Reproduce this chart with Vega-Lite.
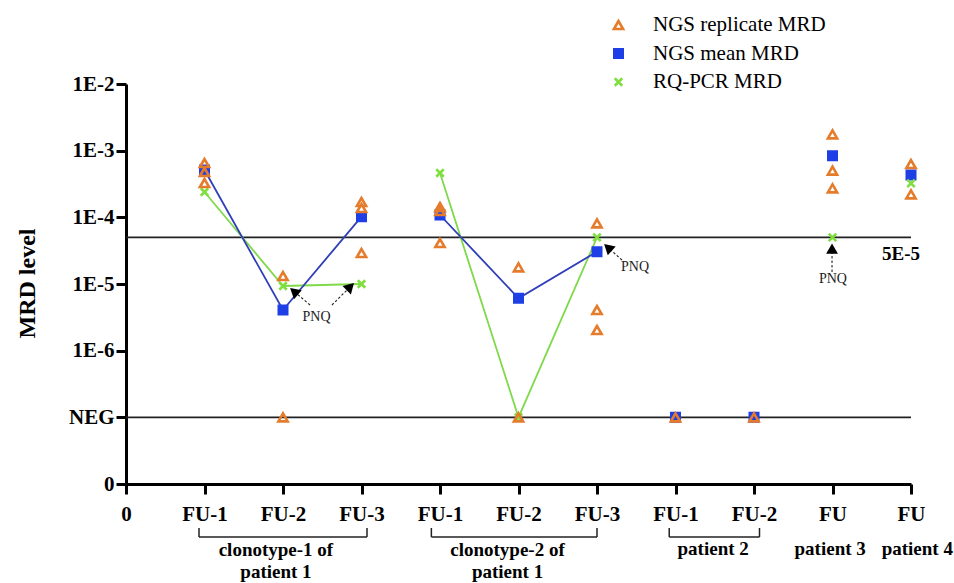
{
  "$schema": "https://vega.github.io/schema/vega-lite/v6.json",
  "width": 785,
  "height": 400,
  "autosize": {"type": "none"},
  "padding": {"left": 126, "top": 84, "right": 43, "bottom": 99},
  "background": "white",
  "config": {"view": {"stroke": null}, "font": "Liberation Serif"},
  "datasets": {
    "points": [
      {"series": "NGS mean MRD", "pos": 1, "level": -3.29, "group": "c1"},
      {"series": "NGS mean MRD", "pos": 2, "level": -5.39, "group": "c1"},
      {"series": "NGS mean MRD", "pos": 3, "level": -3.99, "group": "c1"},
      {"series": "NGS mean MRD", "pos": 4, "level": -3.965, "group": "c2"},
      {"series": "NGS mean MRD", "pos": 5, "level": -5.215, "group": "c2"},
      {"series": "NGS mean MRD", "pos": 6, "level": -4.515, "group": "c2"},
      {"series": "NGS mean MRD", "pos": 7, "level": -7, "group": "p2a"},
      {"series": "NGS mean MRD", "pos": 8, "level": -7, "group": "p2b"},
      {"series": "NGS mean MRD", "pos": 9, "level": -3.075, "group": "p3"},
      {"series": "NGS mean MRD", "pos": 10, "level": -3.365, "group": "p4"},
      {"series": "RQ-PCR MRD", "pos": 1, "level": -3.62, "group": "c1"},
      {"series": "RQ-PCR MRD", "pos": 2, "level": -5.03, "group": "c1"},
      {"series": "RQ-PCR MRD", "pos": 3, "level": -5.0, "group": "c1"},
      {"series": "RQ-PCR MRD", "pos": 4, "level": -3.335, "group": "c2"},
      {"series": "RQ-PCR MRD", "pos": 5, "level": -7, "group": "c2"},
      {"series": "RQ-PCR MRD", "pos": 6, "level": -4.301, "group": "c2"},
      {"series": "RQ-PCR MRD", "pos": 9, "level": -4.301, "group": "p3"},
      {"series": "RQ-PCR MRD", "pos": 10, "level": -3.49, "group": "p4"},
      {"series": "NGS replicate MRD", "pos": 1, "level": -3.185, "group": "c1"},
      {"series": "NGS replicate MRD", "pos": 1, "level": -3.32, "group": "c1"},
      {"series": "NGS replicate MRD", "pos": 1, "level": -3.485, "group": "c1"},
      {"series": "NGS replicate MRD", "pos": 2, "level": -4.88, "group": "c1"},
      {"series": "NGS replicate MRD", "pos": 2, "level": -7, "group": "c1"},
      {"series": "NGS replicate MRD", "pos": 3, "level": -3.77, "group": "c1"},
      {"series": "NGS replicate MRD", "pos": 3, "level": -3.86, "group": "c1"},
      {"series": "NGS replicate MRD", "pos": 3, "level": -4.535, "group": "c1"},
      {"series": "NGS replicate MRD", "pos": 4, "level": -3.845, "group": "c2"},
      {"series": "NGS replicate MRD", "pos": 4, "level": -3.905, "group": "c2"},
      {"series": "NGS replicate MRD", "pos": 4, "level": -4.385, "group": "c2"},
      {"series": "NGS replicate MRD", "pos": 5, "level": -4.75, "group": "c2"},
      {"series": "NGS replicate MRD", "pos": 5, "level": -7, "group": "c2"},
      {"series": "NGS replicate MRD", "pos": 6, "level": -4.09, "group": "c2"},
      {"series": "NGS replicate MRD", "pos": 6, "level": -5.39, "group": "c2"},
      {"series": "NGS replicate MRD", "pos": 6, "level": -5.69, "group": "c2"},
      {"series": "NGS replicate MRD", "pos": 7, "level": -7, "group": "p2a"},
      {"series": "NGS replicate MRD", "pos": 8, "level": -7, "group": "p2b"},
      {"series": "NGS replicate MRD", "pos": 9, "level": -2.755, "group": "p3"},
      {"series": "NGS replicate MRD", "pos": 9, "level": -3.3, "group": "p3"},
      {"series": "NGS replicate MRD", "pos": 9, "level": -3.565, "group": "p3"},
      {"series": "NGS replicate MRD", "pos": 10, "level": -3.2, "group": "p4"},
      {"series": "NGS replicate MRD", "pos": 10, "level": -3.655, "group": "p4"}
    ],
    "refs": [{"level": -4.30103}, {"level": -7}],
    "arrows": [
      {"id": 1, "x": 2.344, "y": -5.315, "hx": 2.14, "hy": -5.11},
      {"id": 2, "x": 2.624, "y": -5.315, "hx": 2.858, "hy": -5.04},
      {"id": 3, "x": 6.318, "y": -4.64, "hx": 6.139, "hy": -4.452},
      {"id": 4, "x": 8.994, "y": -4.82, "hx": 8.994, "hy": -4.47}
    ],
    "pnq": [
      {"x": 2.427, "y": -5.495, "label": "PNQ"},
      {"x": 6.484, "y": -4.745, "label": "PNQ"},
      {"x": 9.006, "y": -4.932, "label": "PNQ"}
    ],
    "cutoff": [{"x": 9.873, "y": -4.55, "label": "5E-5"}],
    "brackets": [
      {"x1": 0.93, "x2": 3.07},
      {"x1": 3.89, "x2": 6.0},
      {"x1": 6.92, "x2": 8.07}
    ],
    "groups": [
      {"x": 1.91, "y": -8.99, "label": "clonotype-1 of"},
      {"x": 1.91, "y": -9.32, "label": "patient 1"},
      {"x": 4.86, "y": -8.99, "label": "clonotype-2 of"},
      {"x": 4.86, "y": -9.32, "label": "patient 1"},
      {"x": 7.48, "y": -8.98, "label": "patient 2"},
      {"x": 8.97, "y": -8.98, "label": "patient 3"},
      {"x": 10.08, "y": -8.98, "label": "patient 4"}
    ]
  },
  "layer": [
    {
      "data": {"name": "refs"},
      "mark": {"type": "rule", "color": "#222222", "strokeWidth": 1.6},
      "encoding": {
        "y": {"field": "level", "type": "quantitative", "scale": {"domain": [-8, -2], "nice": false, "zero": false}}
      }
    },
    {
      "data": {"name": "points"},
      "transform": [{"filter": "datum.series == 'RQ-PCR MRD' && (datum.group == 'c1' || datum.group == 'c2')"}],
      "mark": {"type": "line", "color": "#7fd94a", "strokeWidth": 1.8},
      "encoding": {
        "x": {"field": "pos", "type": "quantitative", "scale": {"domain": [0, 10], "nice": false, "zero": false}},
        "y": {"field": "level", "type": "quantitative", "scale": {"domain": [-8, -2], "nice": false, "zero": false}},
        "detail": {"field": "group"}
      }
    },
    {
      "data": {"name": "points"},
      "transform": [{"filter": "datum.series == 'NGS mean MRD' && (datum.group == 'c1' || datum.group == 'c2')"}],
      "mark": {"type": "line", "color": "#2f3fb8", "strokeWidth": 1.8},
      "encoding": {
        "x": {"field": "pos", "type": "quantitative", "scale": {"domain": [0, 10], "nice": false, "zero": false}},
        "y": {"field": "level", "type": "quantitative", "scale": {"domain": [-8, -2], "nice": false, "zero": false}},
        "detail": {"field": "group"}
      }
    },
    {
      "data": {"name": "arrows"},
      "mark": {"type": "rule", "color": "#222222", "strokeWidth": 1.1, "strokeDash": [2.5, 2]},
      "encoding": {
        "x": {"field": "x", "type": "quantitative", "scale": {"domain": [0, 10], "nice": false, "zero": false}},
        "y": {"field": "y", "type": "quantitative", "scale": {"domain": [-8, -2], "nice": false, "zero": false}},
        "x2": {"field": "hx"},
        "y2": {"field": "hy"}
      }
    },
    {
      "data": {"name": "arrows"},
      "transform": [{"filter": "datum.id == 1"}],
      "mark": {"type": "point", "shape": "triangle-up", "filled": true, "color": "black", "size": 140, "angle": 310.6, "opacity": 1},
      "encoding": {
        "x": {"field": "hx", "type": "quantitative", "scale": {"domain": [0, 10], "nice": false, "zero": false}},
        "y": {"field": "hy", "type": "quantitative", "scale": {"domain": [-8, -2], "nice": false, "zero": false}}
      }
    },
    {
      "data": {"name": "arrows"},
      "transform": [{"filter": "datum.id == 2"}],
      "mark": {"type": "point", "shape": "triangle-up", "filled": true, "color": "black", "size": 140, "angle": 45, "opacity": 1},
      "encoding": {
        "x": {"field": "hx", "type": "quantitative", "scale": {"domain": [0, 10], "nice": false, "zero": false}},
        "y": {"field": "hy", "type": "quantitative", "scale": {"domain": [-8, -2], "nice": false, "zero": false}}
      }
    },
    {
      "data": {"name": "arrows"},
      "transform": [{"filter": "datum.id == 3"}],
      "mark": {"type": "point", "shape": "triangle-up", "filled": true, "color": "black", "size": 140, "angle": 312, "opacity": 1},
      "encoding": {
        "x": {"field": "hx", "type": "quantitative", "scale": {"domain": [0, 10], "nice": false, "zero": false}},
        "y": {"field": "hy", "type": "quantitative", "scale": {"domain": [-8, -2], "nice": false, "zero": false}}
      }
    },
    {
      "data": {"name": "arrows"},
      "transform": [{"filter": "datum.id == 4"}],
      "mark": {"type": "point", "shape": "triangle-up", "filled": true, "color": "black", "size": 140, "angle": 0, "opacity": 1},
      "encoding": {
        "x": {"field": "hx", "type": "quantitative", "scale": {"domain": [0, 10], "nice": false, "zero": false}},
        "y": {"field": "hy", "type": "quantitative", "scale": {"domain": [-8, -2], "nice": false, "zero": false}}
      }
    },
    {
      "data": {"name": "points"},
      "mark": {"type": "point", "strokeWidth": 2.6, "opacity": 1},
      "encoding": {
        "x": {
          "field": "pos", "type": "quantitative",
          "scale": {"domain": [0, 10], "nice": false, "zero": false},
          "title": null,
          "axis": {
            "values": [0, 1, 2, 3, 4, 5, 6, 7, 8, 9, 10],
            "labelExpr": "['0','FU-1','FU-2','FU-3','FU-1','FU-2','FU-3','FU-1','FU-2','FU','FU'][datum.value]",
            "title": null, "grid": false, "labelFlush": false, "labelOverlap": false,
            "domainColor": "black", "domainWidth": 3, "tickColor": "black", "tickWidth": 3, "tickSize": 10,
            "labelFont": "Liberation Serif", "labelFontSize": 21, "labelFontWeight": "bold", "labelColor": "black", "labelPadding": 9
          }
        },
        "y": {
          "field": "level", "type": "quantitative",
          "scale": {"domain": [-8, -2], "nice": false, "zero": false},
          "title": "MRD level",
          "axis": {
            "values": [-8, -7, -6, -5, -4, -3, -2],
            "labelExpr": "datum.value == -8 ? '0' : datum.value == -7 ? 'NEG' : '1E' + datum.value",
            "title": "MRD level", "grid": false, "labelFlush": false, "labelOverlap": false,
            "domainColor": "black", "domainWidth": 3, "tickColor": "black", "tickWidth": 3, "tickSize": 10,
            "labelFont": "Liberation Serif", "labelFontSize": 21, "labelFontWeight": "bold", "labelColor": "black", "labelPadding": 2,
            "titleFont": "Liberation Serif", "titleFontSize": 24, "titleFontWeight": "bold", "titleColor": "black",
            "titleX": -99, "titleY": 199, "titleAngle": -90, "titleAlign": "center", "titleBaseline": "middle"
          }
        },
        "shape": {
          "field": "series", "type": "nominal",
          "scale": {"domain": ["NGS replicate MRD", "NGS mean MRD", "RQ-PCR MRD"], "range": ["triangle-up", "square", "M-1,-1L1,1M1,-1L-1,1"]},
          "legend": {
            "title": null, "orient": "none", "legendX": 482, "legendY": -69.5, "padding": 0,
            "labelFont": "Liberation Serif", "labelFontSize": 21, "labelColor": "black", "labelOffset": 24, "labelLimit": 400,
            "rowPadding": 6.5, "symbolStrokeWidth": 2.6
          }
        },
        "fill": {
          "field": "series", "type": "nominal",
          "scale": {"domain": ["NGS replicate MRD", "NGS mean MRD", "RQ-PCR MRD"], "range": ["transparent", "#1f3fe6", "transparent"]},
          "legend": {"title": null, "orient": "none", "legendX": 482, "legendY": -69.5, "padding": 0, "labelFont": "Liberation Serif", "labelFontSize": 21, "labelColor": "black", "labelOffset": 24, "labelLimit": 400, "rowPadding": 6.5, "symbolStrokeWidth": 2.6}
        },
        "stroke": {
          "field": "series", "type": "nominal",
          "scale": {"domain": ["NGS replicate MRD", "NGS mean MRD", "RQ-PCR MRD"], "range": ["#e57c2c", "#1f3fe6", "#7fdf3f"]},
          "legend": {"title": null, "orient": "none", "legendX": 482, "legendY": -69.5, "padding": 0, "labelFont": "Liberation Serif", "labelFontSize": 21, "labelColor": "black", "labelOffset": 24, "labelLimit": 400, "rowPadding": 6.5, "symbolStrokeWidth": 2.6}
        },
        "size": {
          "field": "series", "type": "nominal",
          "scale": {"domain": ["NGS replicate MRD", "NGS mean MRD", "RQ-PCR MRD"], "range": [85, 56, 90]},
          "legend": {"title": null, "orient": "none", "legendX": 482, "legendY": -69.5, "padding": 0, "labelFont": "Liberation Serif", "labelFontSize": 21, "labelColor": "black", "labelOffset": 24, "labelLimit": 400, "rowPadding": 6.5, "symbolStrokeWidth": 2.6}
        }
      }
    },
    {
      "data": {"name": "pnq"},
      "mark": {"type": "text", "font": "Liberation Serif", "fontSize": 14, "color": "#222222", "align": "center", "baseline": "middle"},
      "encoding": {
        "x": {"field": "x", "type": "quantitative", "scale": {"domain": [0, 10], "nice": false, "zero": false}},
        "y": {"field": "y", "type": "quantitative", "scale": {"domain": [-8, -2], "nice": false, "zero": false}},
        "text": {"field": "label"}
      }
    },
    {
      "data": {"name": "cutoff"},
      "mark": {"type": "text", "font": "Liberation Serif", "fontSize": 19, "fontWeight": "bold", "color": "black", "align": "center", "baseline": "middle"},
      "encoding": {
        "x": {"field": "x", "type": "quantitative", "scale": {"domain": [0, 10], "nice": false, "zero": false}},
        "y": {"field": "y", "type": "quantitative", "scale": {"domain": [-8, -2], "nice": false, "zero": false}},
        "text": {"field": "label"}
      }
    },
    {
      "data": {"name": "brackets"},
      "mark": {"type": "rule", "color": "#222222", "strokeWidth": 1.5},
      "encoding": {
        "x": {"field": "x1", "type": "quantitative", "scale": {"domain": [0, 10], "nice": false, "zero": false}},
        "x2": {"field": "x2"},
        "y": {"datum": -8.795, "type": "quantitative", "scale": {"domain": [-8, -2], "nice": false, "zero": false}}
      }
    },
    {
      "data": {"name": "brackets"},
      "mark": {"type": "rule", "color": "#222222", "strokeWidth": 1.5},
      "encoding": {
        "x": {"field": "x1", "type": "quantitative", "scale": {"domain": [0, 10], "nice": false, "zero": false}},
        "y": {"datum": -8.66, "type": "quantitative", "scale": {"domain": [-8, -2], "nice": false, "zero": false}},
        "y2": {"datum": -8.795}
      }
    },
    {
      "data": {"name": "brackets"},
      "mark": {"type": "rule", "color": "#222222", "strokeWidth": 1.5},
      "encoding": {
        "x": {"field": "x2", "type": "quantitative", "scale": {"domain": [0, 10], "nice": false, "zero": false}},
        "y": {"datum": -8.66, "type": "quantitative", "scale": {"domain": [-8, -2], "nice": false, "zero": false}},
        "y2": {"datum": -8.795}
      }
    },
    {
      "data": {"name": "groups"},
      "mark": {"type": "text", "font": "Liberation Serif", "fontSize": 19, "fontWeight": "bold", "color": "black", "align": "center", "baseline": "middle"},
      "encoding": {
        "x": {"field": "x", "type": "quantitative", "scale": {"domain": [0, 10], "nice": false, "zero": false}},
        "y": {"field": "y", "type": "quantitative", "scale": {"domain": [-8, -2], "nice": false, "zero": false}},
        "text": {"field": "label"}
      }
    }
  ]
}
